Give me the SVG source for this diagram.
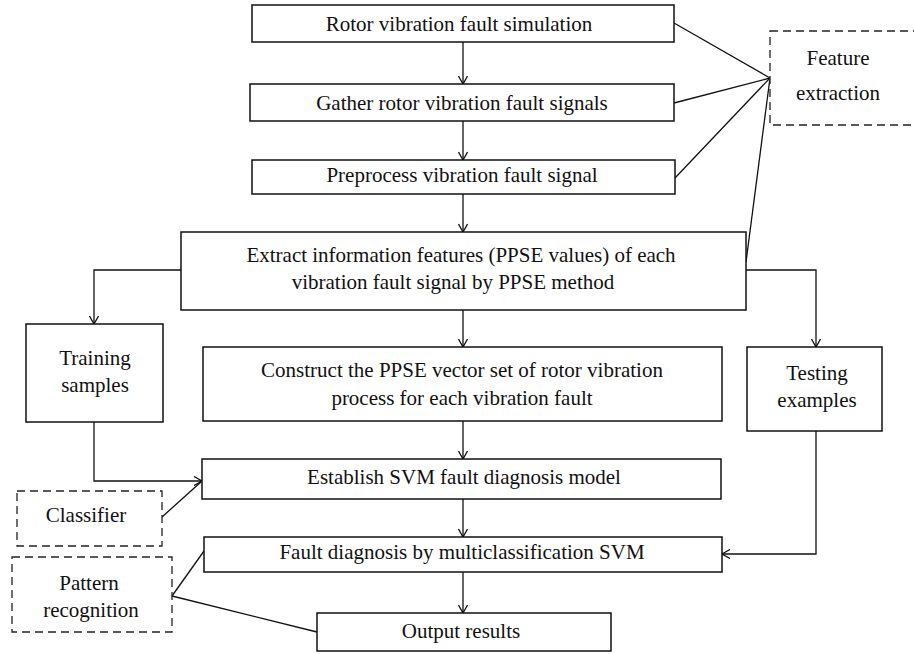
<svg xmlns="http://www.w3.org/2000/svg" width="914" height="654" viewBox="0 0 914 654">
<defs>
<style>
.box{fill:#fff;stroke:#111;stroke-width:1.5}
.dash{fill:#fff;stroke:#222;stroke-width:1.3;stroke-dasharray:8,5}
.ln{fill:none;stroke:#111;stroke-width:1.3}
.arr{fill:none;stroke:#111;stroke-width:1.3;marker-end:url(#ah)}
text{font-size:21px;fill:#111;text-anchor:middle}
</style>
<marker id="ah" viewBox="0 0 10 10" refX="10" refY="5" markerWidth="10" markerHeight="10" markerUnits="userSpaceOnUse" orient="auto">
<polyline points="2,0.5 10,5 2,9.5" fill="none" stroke="#111" stroke-width="1.3"/>
</marker>
</defs>
<rect width="914" height="654" fill="#fff"/>
<g id="connectors">
<line class="arr" x1="463" y1="42" x2="463" y2="84"/>
<line class="arr" x1="463" y1="121" x2="463" y2="160"/>
<line class="arr" x1="463" y1="194" x2="463" y2="232"/>
<line class="arr" x1="463" y1="310" x2="463" y2="347"/>
<line class="arr" x1="463" y1="421" x2="463" y2="459"/>
<line class="arr" x1="463" y1="499" x2="463" y2="537"/>
<line class="arr" x1="463" y1="572" x2="463" y2="613"/>
<polyline class="arr" points="181,270 94,270 94,324"/>
<polyline class="arr" points="746,270 816,270 816,347"/>
<polyline class="arr" points="94,422 94,481 202,481"/>
<polyline class="arr" points="816,431 816,554 722,554"/>
<line class="ln" x1="674" y1="23" x2="770" y2="78"/>
<line class="ln" x1="674" y1="103" x2="770" y2="78"/>
<line class="ln" x1="675" y1="178" x2="770" y2="78"/>
<line class="ln" x1="746" y1="262" x2="770" y2="78"/>
<line class="ln" x1="162" y1="517" x2="202" y2="481"/>
<line class="ln" x1="172" y1="596" x2="204" y2="551"/>
<line class="ln" x1="172" y1="596" x2="317" y2="632"/>
</g>
<g font-family="'Liberation Serif', 'DejaVu Serif', serif">
<g id="n1"><rect class="box" x="252" y="5" width="422" height="37"/><text x="459" y="31">Rotor vibration fault simulation</text></g>
<g id="n2"><rect class="box" x="250" y="84" width="424" height="37"/><text x="462" y="110">Gather rotor vibration fault signals</text></g>
<g id="n3"><rect class="box" x="252" y="160" width="423" height="34"/><text x="462" y="182">Preprocess vibration fault signal</text></g>
<g id="n4"><rect class="box" x="181" y="232" width="565" height="78"/><text x="461" y="262">Extract information features (PPSE values) of each</text><text x="453" y="289">vibration fault signal by PPSE method</text></g>
<g id="n5"><rect class="box" x="26" y="324" width="137" height="98"/><text x="95" y="365">Training</text><text x="95" y="392">samples</text></g>
<g id="n6"><rect class="box" x="203" y="347" width="519" height="74"/><text x="462" y="377">Construct the PPSE vector set of rotor vibration</text><text x="462" y="405">process for each vibration fault</text></g>
<g id="n7"><rect class="box" x="747" y="347" width="135" height="84"/><text x="817" y="380">Testing</text><text x="817" y="407">examples</text></g>
<g id="n8"><rect class="dash" x="770" y="31" width="160" height="94"/><text x="838" y="65">Feature</text><text x="838" y="100">extraction</text></g>
<g id="n9"><rect class="box" x="202" y="459" width="519" height="40"/><text x="464" y="484">Establish SVM fault diagnosis model</text></g>
<g id="n10"><rect class="dash" x="17" y="491" width="145" height="55"/><text x="86" y="522">Classifier</text></g>
<g id="n11"><rect class="box" x="204" y="537" width="518" height="35"/><text x="462" y="559">Fault diagnosis by multiclassification SVM</text></g>
<g id="n12"><rect class="dash" x="12" y="557" width="160" height="75"/><text x="89" y="590">Pattern</text><text x="91" y="617">recognition</text></g>
<g id="n13"><rect class="box" x="317" y="613" width="294" height="38"/><text x="461" y="638">Output results</text></g>
</g>
</svg>
